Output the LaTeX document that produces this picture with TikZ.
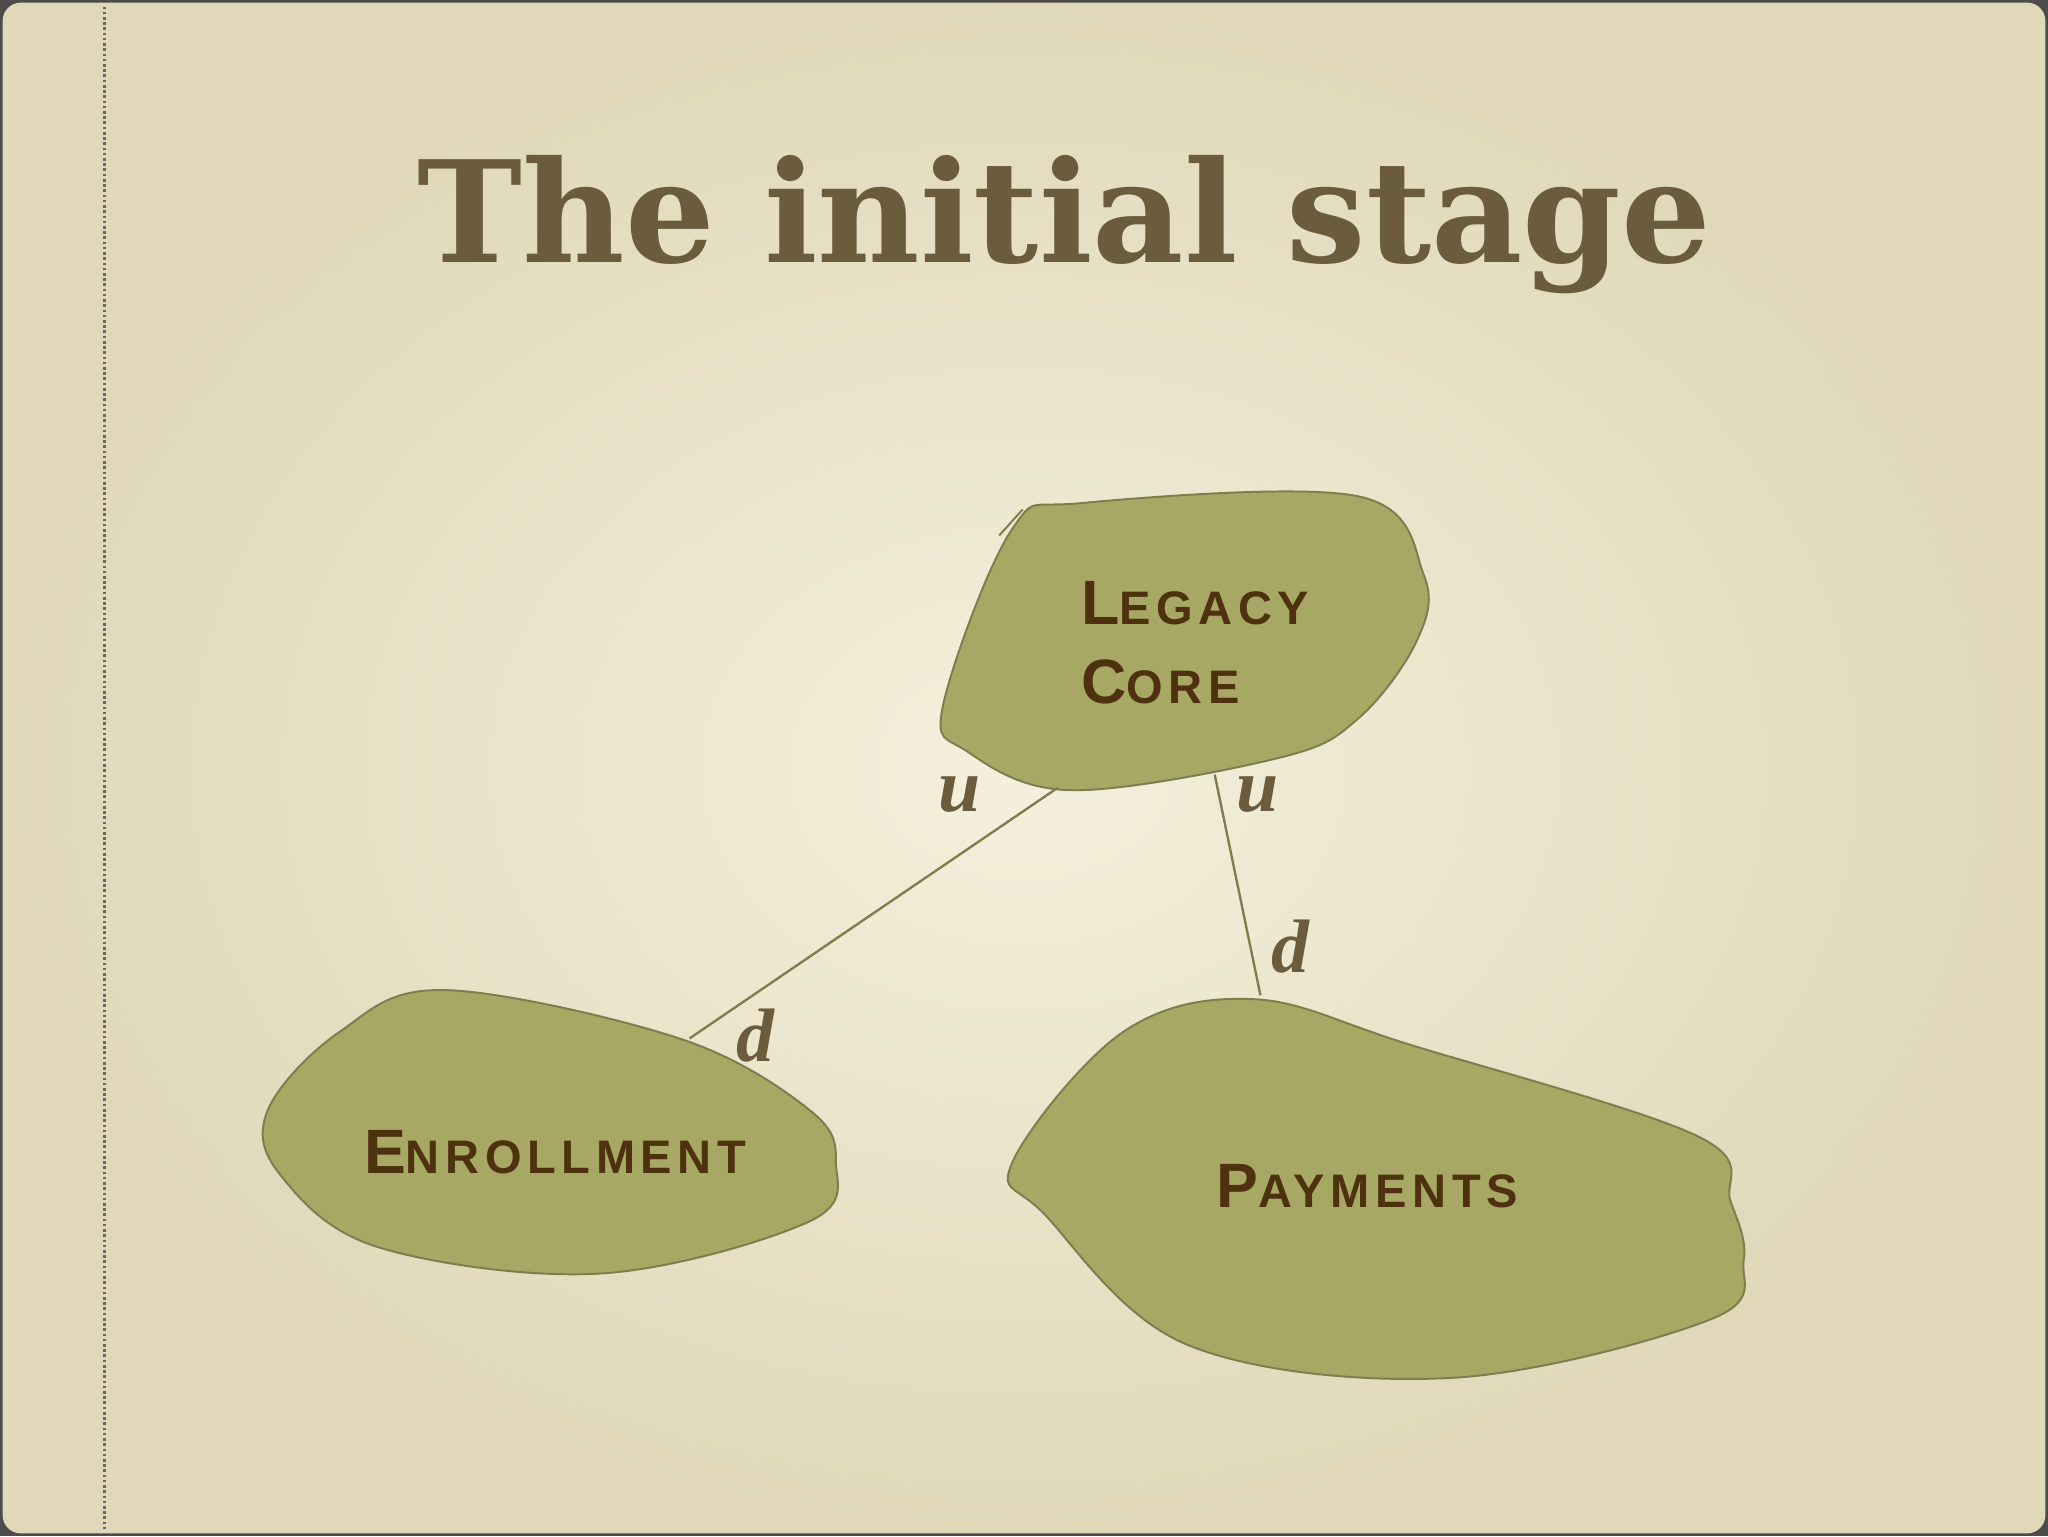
\documentclass[tikz,border=0pt]{standalone}
\usepackage{fontspec}
\setmainfont{Liberation Serif}
\newfontfamily\titlefont{DejaVu Serif}
\newfontfamily\capfont[LetterSpace=12]{Liberation Sans}
\newcommand{\fsc}[2]{#1{\fontsize{36}{40}\selectfont #2}}
\definecolor{bgA}{HTML}{F4F0DC}
\definecolor{bgB}{HTML}{E0D8B9}
\definecolor{blob}{HTML}{A8A865}
\definecolor{blobline}{HTML}{7E7D4E}
\definecolor{ink}{HTML}{6A5C3C}
\definecolor{capink}{HTML}{4E3210}
\tikzset{
  blobshape/.style={fill=blob,draw=blobline,line width=1.5pt},
  conn/.style={draw=blobline,line width=1.8pt},
  capname/.style={font=\capfont\bfseries\fontsize{48}{60}\selectfont,text=capink,align=left},
  ulab/.style={font=\bfseries\itshape\fontsize{58}{58}\selectfont,text=ink}
}
\begin{document}
\begin{tikzpicture}[x=1pt,y=-1pt]
\useasboundingbox (0,0) rectangle (1568,1176);
\fill[black!70] (0,0) rectangle (1568,1176);
\shade[inner color=bgA,outer color=bgB,rounded corners=14pt] (2,2) rectangle (1566,1174);
\draw[dotted,line width=2pt,black!60] (80,5) -- (80,1171);
\node[font=\titlefont\bfseries\fontsize{108}{118}\selectfont,text=ink] (title) at (815,172) {The initial stage};
% Legacy core
\draw[blobshape] plot[smooth cycle,tension=0.6] coordinates{(775,405)(830,385)(1040,380)(1090,440)(1085,490)(1040,550)(980,580)(820,605)(740,575)(722,540)};
\draw[blobline,line width=1.5pt] (765,410) -- (783,390);
\node[capname] (core) at (915,492) {\fsc{L}{EGACY}\\\fsc{C}{ORE}};
% Enrollment
\draw[blobshape] plot[smooth cycle,tension=0.6] coordinates{(205,850)(260,790)(340,758)(520,795)(620,850)(640,890)(620,935)(460,975)(290,955)(215,900)};
\node[capname] (enr) at (425,882) {\fsc{E}{NROLLMENT}};
% Payments
\draw[blobshape] plot[smooth cycle,tension=0.6] coordinates{(775,890)(860,790)(960,765)(1080,800)(1300,870)(1325,920)(1335,965)(1310,1010)(1110,1055)(910,1030)(800,930)};
\node[capname] (pay) at (1047,908) {\fsc{P}{AYMENTS}};
% connectors
\coordinate (c1) at (810,603); \coordinate (e1) at (528,795);
\coordinate (c2) at (930,593); \coordinate (p1) at (965,762);
\draw[conn] (c1) -- (e1);
\draw[conn] (c2) -- (p1);
\node[ulab] (u1) at (735,608) {u};
\node[ulab] (u2) at (963,608) {u};
\node[ulab] (d1) at (988,725) {d};
\node[ulab] (d2) at (578,793) {d};
\end{tikzpicture}
\end{document}
